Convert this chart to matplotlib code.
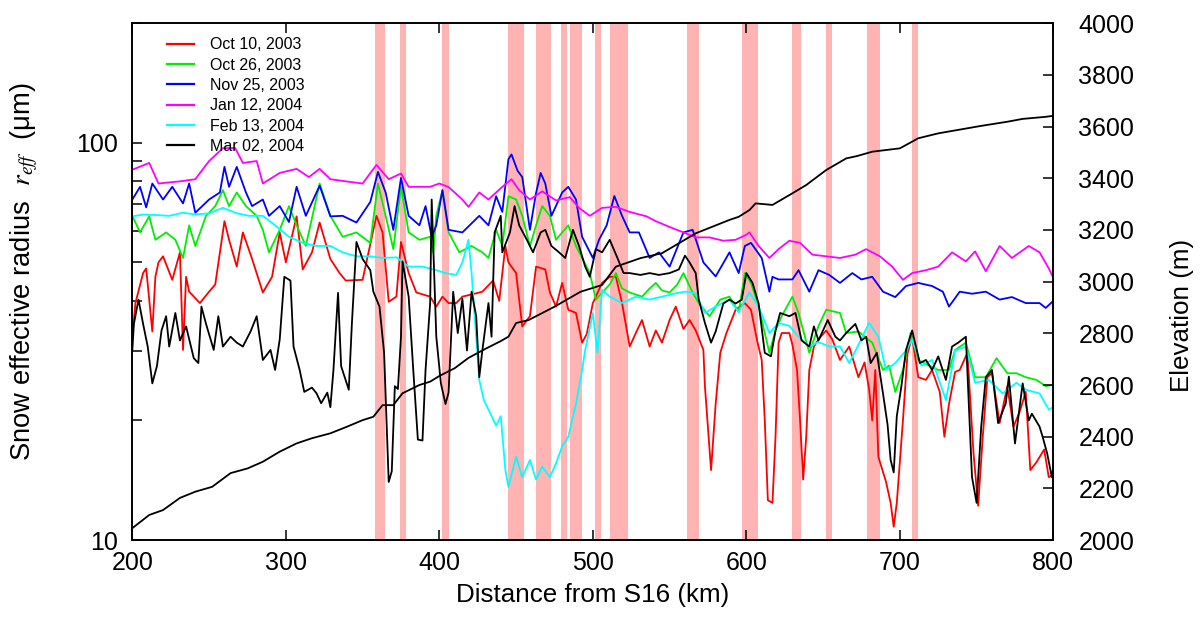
import matplotlib
matplotlib.use("Agg")
import matplotlib.pyplot as plt
from matplotlib.ticker import FixedLocator, NullFormatter, FixedFormatter, LogLocator

plt.rcParams['font.family'] = ['Liberation Sans', 'DejaVu Sans']
plt.rcParams['mathtext.fontset'] = 'stix'

# ---------------- data ----------------
red_km = [200,202,207,209,213,215,217,220,226,231,233,235,237,244,250,254,260,263,268,272,278,285,291,296,300,307,311,317,322,329,335,339,350,359,363,367,372,375,380,385,394,398,402,406,411,415,424,428,435,439,443,445,450,454,459,463,469,472,476,480,484,489,493,496,500,506,511,515,519,524,528,532,537,541,545,550,554,559,563,567,572,573,577,580,583,587,593,599,603,607,610,612,614,617,619,621,623,628,630,633,635,637,639,641,644,647,652,656,661,667,673,677,680,682,684,686,691,694,696,698,702,705,708,712,717,721,726,729,732,736,739,744,748,751,754,757,760,765,770,774,778,782,785,789,794,797,800]
red_val = [32.5,39.5,47,48.3,33.5,46,50,51.8,45.2,53,30.1,46,42.2,39.5,42.2,44,63.5,57,48.8,59.5,51,42,46,59.5,50,65.3,48,53,63,51,47,45,45.2,65.5,59.5,39.8,41,56.3,47,42,41,38.7,41,39.5,39.5,41,41.8,42.2,45,40,55,50,47,34.5,36.6,48.8,48,42,38.7,44.4,38,37.3,31.4,33,39.5,44.4,46,46,39.5,30.7,33.2,35.8,30.7,33.7,31.4,35.8,38.7,34,35.8,33.7,30.1,24.4,15,22,29.6,33.2,38,39.5,38,31.8,28.4,20,12.6,12.4,18.2,31.4,33.2,33.2,31,26.8,20,14.2,18.2,26.8,30.7,32,33.7,32,28.4,30.7,25.7,28,23.9,20,26.8,16.2,14,12.4,10.8,12.4,20,29.5,32.5,25.7,25.3,26.8,23.6,18.2,22,26.5,26.8,29.6,16.5,12.2,18.2,25.7,26.3,19.7,24.4,19.3,21,23.6,15,15.7,16.9,14.4,14.6]

green_km = [200,205,211,215,222,228,233,237,241,248,254,259,263,268,274,281,285,289,296,302,307,313,322,329,337,346,355,360,365,370,375,380,387,394,396,398,402,406,413,421,428,432,437,441,445,450,454,459,463,467,472,476,480,484,489,493,498,502,506,511,515,519,524,532,537,541,545,550,555,559,565,569,576,583,589,595,599,603,608,615,619,623,630,634,641,647,652,661,665,673,682,689,693,697,702,707,712,719,725,732,736,743,749,756,763,770,776,782,789,795,800]
green_val = [65.5,59.5,65.3,57,59.5,57,51.3,62,55,65.5,69.3,76,69.3,75,69.3,65.5,60.4,53,60.4,69.3,62,55,79,65.5,58,59.5,56,79,65.5,54,77.5,59.5,57,58,52.8,65.5,76,59.5,53,55,53,51.3,60.4,55,73.4,72,65.5,55,62,69.3,65.5,57,59.5,62,55,51.3,47,40.3,42,44,47,43,42,41,43,44.4,42.5,42,44,47,42,39.5,36.6,40.3,41,37.5,47,44.4,38.7,29.6,33.7,36.6,41,37.3,29.6,34.6,38,37.3,33.2,33.5,31.4,26.8,27.5,23.6,26.8,33.2,28.4,27.5,26.8,26.8,30.1,31.4,25.7,25.7,28.7,26.3,26.3,25.7,25.3,24.4,24.6]

blue_km = [200,205,209,213,220,226,233,237,241,250,257,260,263,268,274,278,285,289,296,302,307,313,322,329,337,346,355,360,365,370,375,380,387,391,395,398,402,406,415,426,432,437,441,445,447,451,454,459,463,466,469,473,480,484,489,493,500,504,509,514,519,524,530,537,543,550,559,565,572,580,589,595,599,603,610,615,617,621,630,634,641,647,654,661,669,675,682,689,697,704,712,721,728,732,739,747,756,765,773,782,791,795,800]
blue_val = [72,77.5,68.8,79,72,77.5,70.4,79,66.7,72,75,87,77.5,87,75,69.3,72,65.5,69.3,63.2,77.5,65.5,78,65.3,65.5,63,71,84.5,75,60.4,81.6,65.5,62,69.3,58,62,76,60.4,59.5,65.5,62,73.4,67,91,93.5,85,82,60.4,74.8,84,79,65.5,75,77.5,72,58,51.3,57,62,73.5,65.5,59.5,59.5,51.3,53,48.8,59.5,60.4,50,46.1,53,47,55,56,51.3,42.2,46,45.3,45.3,47.8,42.2,47.8,46.5,44.4,47,45.3,46,42.2,40.9,43.6,44.4,43.6,42.2,38.7,42.2,41.7,42.2,40.3,40.9,39.5,39.5,38.4,40]

magenta_km = [200,211,217,231,241,250,259,267,272,281,285,296,307,315,322,329,339,350,359,367,375,380,394,400,406,415,419,426,432,441,447,452,459,467,476,485,491,498,506,515,524,535,541,550,559,567,576,585,593,600,602,608,615,621,628,635,643,652,661,671,678,687,695,702,708,717,725,734,743,749,756,765,773,784,791,797,800]
magenta_val = [85.6,89,79,80,81,90,97,97,89,90,79,84,86,82,86,81,80,79,88,81,83.7,77.5,77.5,79,77.4,72,69,75,72,77.5,81,76,72,75.5,71.6,73,68.6,65.5,68.6,69,67,65.3,63.5,61.4,59.5,57.8,57.8,56.7,57,58.7,59.5,55,51.3,54,56.7,56,52.3,51.8,51.3,52.3,54,51.8,48.8,45.2,47,47.8,48.8,53,50.3,53.3,47.5,55,51.3,55,53,48.3,45.7]

cyan_km = [200,207,215,224,233,241,250,259,268,276,285,293,302,311,320,329,337,346,355,363,372,380,389,398,404,411,415,419,421,426,429,432,437,440,443,445,450,454,459,463,467,472,476,480,484,489,493,495,500,503,506,511,519,528,537,545,554,560,567,573,580,589,595,602,608,615,621,628,634,641,647,654,661,667,673,680,686,691,697,704,708,714,721,730,736,743,749,758,767,776,782,791,797,800]
cyan_val = [65.3,66,65.8,65.5,66.7,66,66.5,68.6,66.5,65.5,65.5,62,58,56,55,55,53,51.8,51.8,51.3,51.5,48.8,48.8,47.8,47,46.5,50,57,47,25.3,22.5,21.3,19.4,20.5,15,13.6,16.2,14.4,15.9,14.2,15.3,14.4,15.6,17.2,18.2,22,26.8,30.1,37.3,29.6,42.6,41,39.5,41,40.3,41,41.8,42.2,41.8,37.3,38.7,40.3,37.5,42,38.7,33.2,35.2,34.6,32.5,30.7,31.5,30.7,30.7,27.9,31,35.2,32.5,26.8,27.9,30,32,27.5,28.4,22.5,30,30.7,24.9,25.3,23.4,24.9,23.9,23.4,21.3,21.6]

black_km = [200,201,204,207,210,213,216,219,222,224,228,231,235,240,243,245,248,253,256,259,264,268,272,277,281,285,290,293,296,299,303,305,309,312,317,320,323,327,329,331,334,336,341,343,346,350,355,357,361,364,367,369,371,373,375,376,380,383,386,389,391,394,395,398,401,404,406,409,412,415,418,421,424,426,428,432,434,436,440,441,446,449,452,457,461,466,469,473,478,482,487,491,495,498,502,506,511,516,520,524,531,537,543,550,556,560,563,567,569,573,577,580,585,589,593,597,600,604,608,612,616,619,622,628,632,636,641,644,647,653,658,661,665,671,675,678,681,685,689,692,694,696,698,701,704,708,713,717,721,725,730,734,738,743,747,750,753,756,760,764,769,771,775,780,784,786,791,793,796,799,800]
black_val = [30.1,35,40.3,35,30.7,24.8,27.4,33.7,36.6,30.7,37.3,31.8,34.5,28.7,27.9,38.7,35,30.1,36.6,30.7,32.5,31.4,30.7,33.5,36.6,28.4,30.1,26.8,32,46,45,30.7,26.8,23.6,24.2,23.4,22.1,23.5,21.6,26.8,41.9,27.4,23.9,35,56.3,51,47.8,42.2,38.7,29.6,14,14.9,24.4,24,32.5,50.3,41,26.8,17.9,17.8,26.8,39.5,72,32.5,24.8,22,23.5,42.2,33.2,40.5,30,42.2,36.6,25.7,30,39.5,32.5,59.5,65.5,53,59.5,69.3,62,57,53,59.5,60.4,55,53,51.3,60.4,55,48.8,46,54,53,57,51.3,47,47,46.5,47,46.5,47,48,52,50,47,40.3,35.2,31.4,33.5,39.4,40.3,39.4,40.3,47,44.4,39.4,29.6,29,33.7,37.3,36.6,37.3,31.8,30.7,34.5,31.8,35.8,32.5,31.8,33.2,35,31.8,32.5,27.9,29.6,23.4,19.5,15.9,14.8,20.5,24.4,30.1,33.7,27.9,28.4,26.8,29,25.3,30.7,31.4,32.5,14.4,12.4,19.3,25.7,26.8,19.7,22.1,25.8,17.5,24.8,20,20.8,19.3,18.2,16.5,14.4,15.3]

elev_km = [200,211,220,231,241,252,264,275,285,296,307,317,329,340,350,357,363,370,376,387,394,400,410,419,430,440,445,450,458,475,492,506,515,531,545,567,589,595,602,606,617,630,639,652,665,672,682,700,712,725,753,770,780,795,800]
elev_m = [2046,2097,2116,2163,2187,2206,2259,2277,2303,2342,2374,2394,2413,2439,2464,2477,2522,2522,2568,2600,2613,2635,2665,2705,2740,2770,2787,2840,2851,2903,2961,2987,3058,3091,3110,3187,3239,3251,3277,3303,3297,3342,3374,3432,3477,3486,3503,3516,3555,3574,3603,3619,3630,3638,3642]

band_start = [358.1,374.4,401.9,444.7,462.9,479.0,485.0,501.1,511.1,561.4,597.2,629.7,651.8,678.5,707.6]
band_end   = [364.4,378.3,406.5,455.1,472.7,482.9,492.8,505.0,523.0,569.4,607.4,635.5,656.0,686.8,712.0]

series_labels = ["Oct 10, 2003", "Oct 26, 2003", "Nov 25, 2003", "Jan 12, 2004", "Feb 13, 2004", "Mar 02, 2004"]
series_colors = ["#ff0000", "#00ee00", "#0000ff", "#ff00ff", "#00ffff", "#000000"]

x_ticks = [200, 300, 400, 500, 600, 700, 800]
left_ticks = [10, 100]
right_ticks = [2000, 2200, 2400, 2600, 2800, 3000, 3200, 3400, 3600, 3800, 4000]

# ---------------- figure ----------------
fig = plt.figure(figsize=(12, 6.23), dpi=100)
ax = fig.add_axes([0.1103, 0.1332, 0.7675, 0.8294])
ax.set_yscale('log')
ax.set_xlim(200, 800)
ax.set_ylim(10, 200)

for s, e in zip(band_start, band_end):
    ax.axvspan(s, e, color='#ffb3b3', lw=0, zorder=0)

xs = [red_km, green_km, blue_km, magenta_km, cyan_km, black_km]
ys = [red_val, green_val, blue_val, magenta_val, cyan_val, black_val]
for x, y, c, lab in zip(xs, ys, series_colors, series_labels):
    ax.plot(x, y, color=c, lw=1.3, label=lab, zorder=2)

ax2 = ax.twinx()
ax2.set_ylim(2000, 4000)
ax2.plot(elev_km, elev_m, color='black', lw=1.3)

# ticks
ax.xaxis.set_major_locator(FixedLocator(x_ticks))
ax.set_xticklabels([str(t) for t in x_ticks])
ax.yaxis.set_major_locator(FixedLocator(left_ticks))
ax.yaxis.set_major_formatter(FixedFormatter([str(t) for t in left_ticks]))
ax.yaxis.set_minor_locator(LogLocator(base=10, subs=range(2, 10)))
ax.yaxis.set_minor_formatter(NullFormatter())
ax.tick_params(axis='both', which='both', direction='in', length=7, width=1.1,
               top=True, right=False, labelsize=18, colors='black')
ax.tick_params(axis='x', pad=8)
ax.tick_params(axis='y', pad=10)
ax.tick_params(axis='y', which='minor', length=7)
ax2.yaxis.set_major_locator(FixedLocator(right_ticks))
ax2.tick_params(axis='y', direction='in', length=7, width=1.1, labelsize=18, pad=18)
ax2.set_xlim(200, 800)

for sp in list(ax.spines.values()) + list(ax2.spines.values()):
    sp.set_linewidth(1.2)

ax.set_xlabel("Distance from S16 (km)", fontsize=18.7, labelpad=6)
ax.set_ylabel("Snow effective radius  $r_{eff}$  (\u03bcm)", fontsize=19.7, labelpad=26)
ax.yaxis.label.set_y(0.52)
ax2.set_ylabel("Elevation (m)", fontsize=18.7, labelpad=26)
ax2.yaxis.label.set_y(0.435)

leg = ax.legend(loc='upper left', bbox_to_anchor=(0.031, 0.985), frameon=False,
                fontsize=11.5, handlelength=1.7, handletextpad=1.0,
                labelspacing=0.33, borderaxespad=0)
for l in leg.get_lines():
    l.set_linewidth(1.6)

fig.savefig("out.png", dpi=100)
